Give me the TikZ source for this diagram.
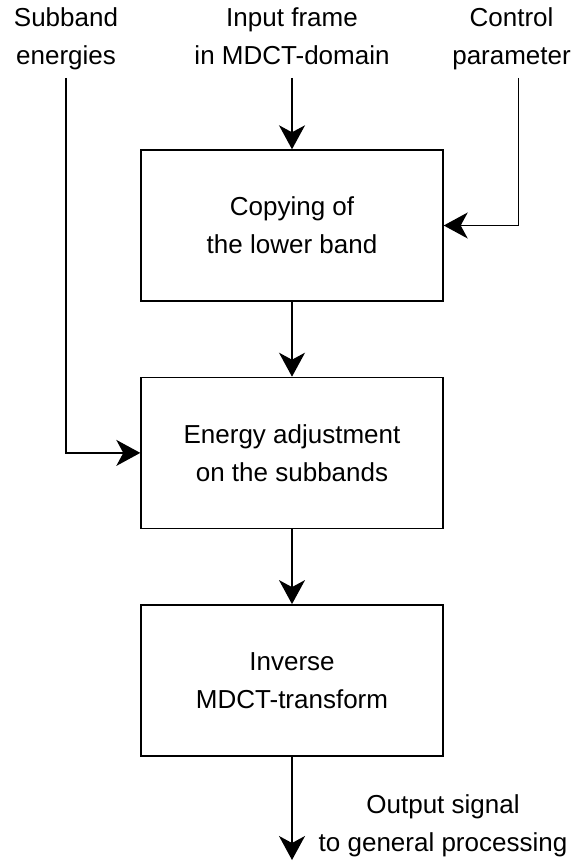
\documentclass[tikz,border=0pt]{standalone}
\usepackage{fontspec}
\setmainfont{Liberation Sans}
\usetikzlibrary{arrows.meta,positioning}

\begin{document}
\begin{tikzpicture}[x=1pt,y=-1pt,
  >={Stealth[length=24pt,width=26pt,inset=7pt]},
  every node/.style={font=\fontsize{26}{38}\selectfont, align=center},
  block/.style={draw, line width=1.4pt, minimum width=302pt, minimum height=151pt, inner sep=0pt},
  sig/.style={inner sep=0pt, text depth=13pt},
  flow/.style={line width=1.4pt, ->}]
\useasboundingbox (0,0) rectangle (573,861);
% processing chain
\node[block] (copy) at (292,225.5) {Copying of\\the lower band};
\node[block, below=75pt of copy] (adjust) {Energy adjustment\\on the subbands};
\node[block, below=75pt of adjust] (inverse) {Inverse\\MDCT-transform};
% inputs
\node[sig, anchor=south] (energies) at (66,78) {Subband\\energies};
\node[sig, anchor=south] (frame) at (292,78) {Input frame\\in MDCT-domain};
\node[sig, anchor=south east] (control) at (571,78) {Control\\parameter};
% output
\coordinate (out) at (292,860);
\node[sig, anchor=south] (outsig) at (443,865) {Output signal\\to general processing};
\draw[flow] (frame.south) -- (copy.north);
\draw[flow] ([xshift=7pt]control.south) |- (copy.east);
\draw[flow] (energies.south) |- (adjust.west);
\draw[flow] (copy) -- (adjust);
\draw[flow] (adjust) -- (inverse);
\draw[flow] (inverse) -- (out);
\end{tikzpicture}
\end{document}
